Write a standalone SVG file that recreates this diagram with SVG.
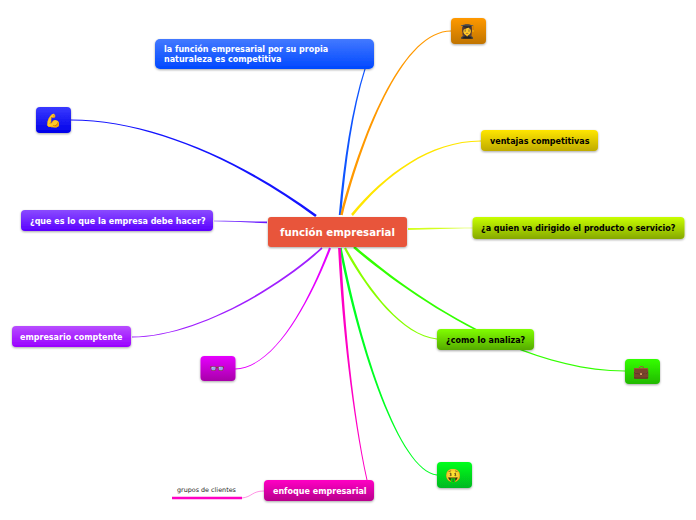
<svg xmlns="http://www.w3.org/2000/svg" width="696" height="520" viewBox="0 0 696 520">
<style>
text{font-family:"DejaVu Sans",sans-serif;font-weight:700;font-size:8px}
.w{fill:#fff}.k{fill:#000}
.n{filter:url(#sh)}
.e{font-family:"Noto Color Emoji","DejaVu Sans",sans-serif;font-weight:400;font-size:13px;text-anchor:middle}
</style>
<defs>
<filter id="sh" x="-10%" y="-20%" width="120%" height="150%"><feDropShadow dx="0" dy="1" stdDeviation="1" flood-color="#000" flood-opacity=".35"/></filter>
<linearGradient id="g1" x1="0" y1="0" x2="0" y2="1"><stop offset="0" stop-color="#4379ff"/><stop offset="1" stop-color="#0048ff"/></linearGradient>
<linearGradient id="g2" x1="0" y1="0" x2="0" y2="1"><stop offset="0" stop-color="#3a3aff"/><stop offset="1" stop-color="#0000e8"/></linearGradient>
<linearGradient id="g3" x1="0" y1="0" x2="0" y2="1"><stop offset="0" stop-color="#8a4bff"/><stop offset="1" stop-color="#5a00ff"/></linearGradient>
<linearGradient id="g4" x1="0" y1="0" x2="0" y2="1"><stop offset="0" stop-color="#b84dff"/><stop offset="1" stop-color="#9900ff"/></linearGradient>
<linearGradient id="g5" x1="0" y1="0" x2="0" y2="1"><stop offset="0" stop-color="#e600ff"/><stop offset="1" stop-color="#a800a8"/></linearGradient>
<linearGradient id="g6" x1="0" y1="0" x2="0" y2="1"><stop offset="0" stop-color="#ff00c4"/><stop offset="1" stop-color="#b8008c"/></linearGradient>
<linearGradient id="g7" x1="0" y1="0" x2="0" y2="1"><stop offset="0" stop-color="#ff9900"/><stop offset="1" stop-color="#c07400"/></linearGradient>
<linearGradient id="g8" x1="0" y1="0" x2="0" y2="1"><stop offset="0" stop-color="#ffe600"/><stop offset="1" stop-color="#bfab00"/></linearGradient>
<linearGradient id="g9" x1="0" y1="0" x2="0" y2="1"><stop offset="0" stop-color="#c8ff00"/><stop offset="1" stop-color="#86a800"/></linearGradient>
<linearGradient id="g10" x1="0" y1="0" x2="0" y2="1"><stop offset="0" stop-color="#80ff00"/><stop offset="1" stop-color="#55aa00"/></linearGradient>
<linearGradient id="g11" x1="0" y1="0" x2="0" y2="1"><stop offset="0" stop-color="#33ff00"/><stop offset="1" stop-color="#22b800"/></linearGradient>
<linearGradient id="g12" x1="0" y1="0" x2="0" y2="1"><stop offset="0" stop-color="#00ff1e"/><stop offset="1" stop-color="#00b820"/></linearGradient>
</defs>
<rect width="696" height="520" fill="#fff"/>
<g id="connectors">
<path fill="#0f55ff" d="M338.8 215C343.9 160 351.3 110 364.4 69L365.6 69C352.7 110 346.1 160 341.2 215Z"/>
<path fill="#ff9900" d="M340.300 214.700C364 124.600 404.700 30.400 451 30.500L451 31.500C405.300 31.600 366 125.400 342.700 215.300Z"/>
<path fill="#ffe600" d="M351.100 214.100C384.400 174.300 429.800 140.400 481 140.500L481 141.500C430.200 141.600 385.600 175.700 352.900 215.900Z"/>
<path fill="#d4ff20" d="M408 228C430 227.600 450 227.700 473 227.700L473 228.300C450 228.300 430 229.400 408 230Z"/>
<path fill="#33ff00" d="M354.800 246C410.500 294.200 520.200 370.500 625 370.500L625 371.500C519.800 371.500 409.500 295.800 353.200 248Z"/>
<path fill="#88ff00" d="M346 247.500C366 284.500 400.300 334.500 437 338.500L437 339.500C399.700 335.500 364 285.500 344 248.500Z"/>
<path fill="#00ff22" d="M339.300 248.300C356.800 340.300 397.600 470.900 437 475.500L437 474.500C398.400 470.100 359.200 339.700 341.700 247.700Z"/>
<path fill="#ff00c4" d="M338.100 248C341.700 320 351.500 410 366.500 480L367.500 480C352.500 410 344.300 320 340.900 248Z"/>
<path fill="#e600ff" d="M329 247.500C309.400 299.700 274.900 367.700 235 368.500L235 369.500C275.100 368.300 310.600 300.300 331 248.500Z"/>
<path fill="#a020ff" d="M321.500 247.200C269.300 294.200 190 336.500 132 336.500L132 337.500C190 337.500 270.700 295.800 322.500 248.800Z"/>
<path fill="#6a1cff" d="M267 221.500C250 221.500 232 220.800 214 220.700L214 221.300C232 221.400 250 222.700 267 223.300Z"/>
<path fill="#1414ff" d="M316.800 215C240.700 159.200 150 119.500 71 119.500L71 120.500C150 120.500 239.300 160.800 315.200 217Z"/>
<path fill="none" stroke="#ff66d8" stroke-width=".7" d="M242 498C252 497 252 491 264 491"/>
</g>
<g id="center"><rect class="n" x="268" y="217" width="139" height="30" rx="3" fill="#e8553a"/><text class="w" x="337.500" y="236" text-anchor="middle" style="font-size:10.200px">función empresarial</text></g>
<g id="n1"><rect class="n" x="155" y="39" width="219" height="30" rx="5" fill="url(#g1)"/><text class="w" x="164" y="51.500">la función empresarial por su propia</text><text class="w" x="164" y="61.500">naturaleza es competitiva</text></g>
<g id="n2"><rect class="n" x="36" y="107" width="35" height="26" rx="4" fill="url(#g2)"/><text class="e" x="53" y="125">💪</text></g>
<g id="n3"><rect class="n" x="21" y="210" width="192" height="21" rx="4" fill="url(#g3)"/><text class="w" x="30" y="224">¿que es lo que la empresa debe hacer?</text></g>
<g id="n4"><rect class="n" x="12" y="326" width="119" height="21" rx="4" fill="url(#g4)"/><text class="w" x="20" y="340">empresario comptente</text></g>
<g id="n5"><rect class="n" x="200.500" y="356" width="35" height="25" rx="4" fill="url(#g5)"/><text class="e" x="217" y="373">👓</text></g>
<g id="n6"><rect class="n" x="264" y="480" width="110" height="21" rx="4" fill="url(#g6)"/><text class="w" x="273" y="494">enfoque empresarial</text></g>
<g id="n7"><text x="177" y="492" style="font-size:6.400px;font-weight:400" fill="#222">grupos de clientes</text><line x1="172" y1="498" x2="242" y2="498" stroke="#ff00c4" stroke-width="2.500"/></g>
<g id="n8"><rect class="n" x="451" y="18" width="35" height="26" rx="4" fill="url(#g7)"/><text class="e" x="467" y="36">👩‍🎓</text></g>
<g id="n9"><rect class="n" x="481" y="130" width="117" height="21" rx="4" fill="url(#g8)"/><text class="k" x="490" y="144">ventajas competitivas</text></g>
<g id="n10"><rect class="n" x="472.500" y="217" width="212" height="22" rx="4" fill="url(#g9)"/><text class="k" x="481" y="231">¿a quien va dirigido el producto o servicio?</text></g>
<g id="n11"><rect class="n" x="437" y="329" width="97" height="21" rx="4" fill="url(#g10)"/><text class="k" x="446" y="343">¿como lo analiza?</text></g>
<g id="n12"><rect class="n" x="625" y="359" width="35" height="25" rx="4" fill="url(#g11)"/><text class="e" x="641" y="376">💼</text></g>
<g id="n13"><rect class="n" x="437" y="462" width="35" height="26" rx="4" fill="url(#g12)"/><text class="e" x="453" y="480">🤑</text></g>
</svg>
